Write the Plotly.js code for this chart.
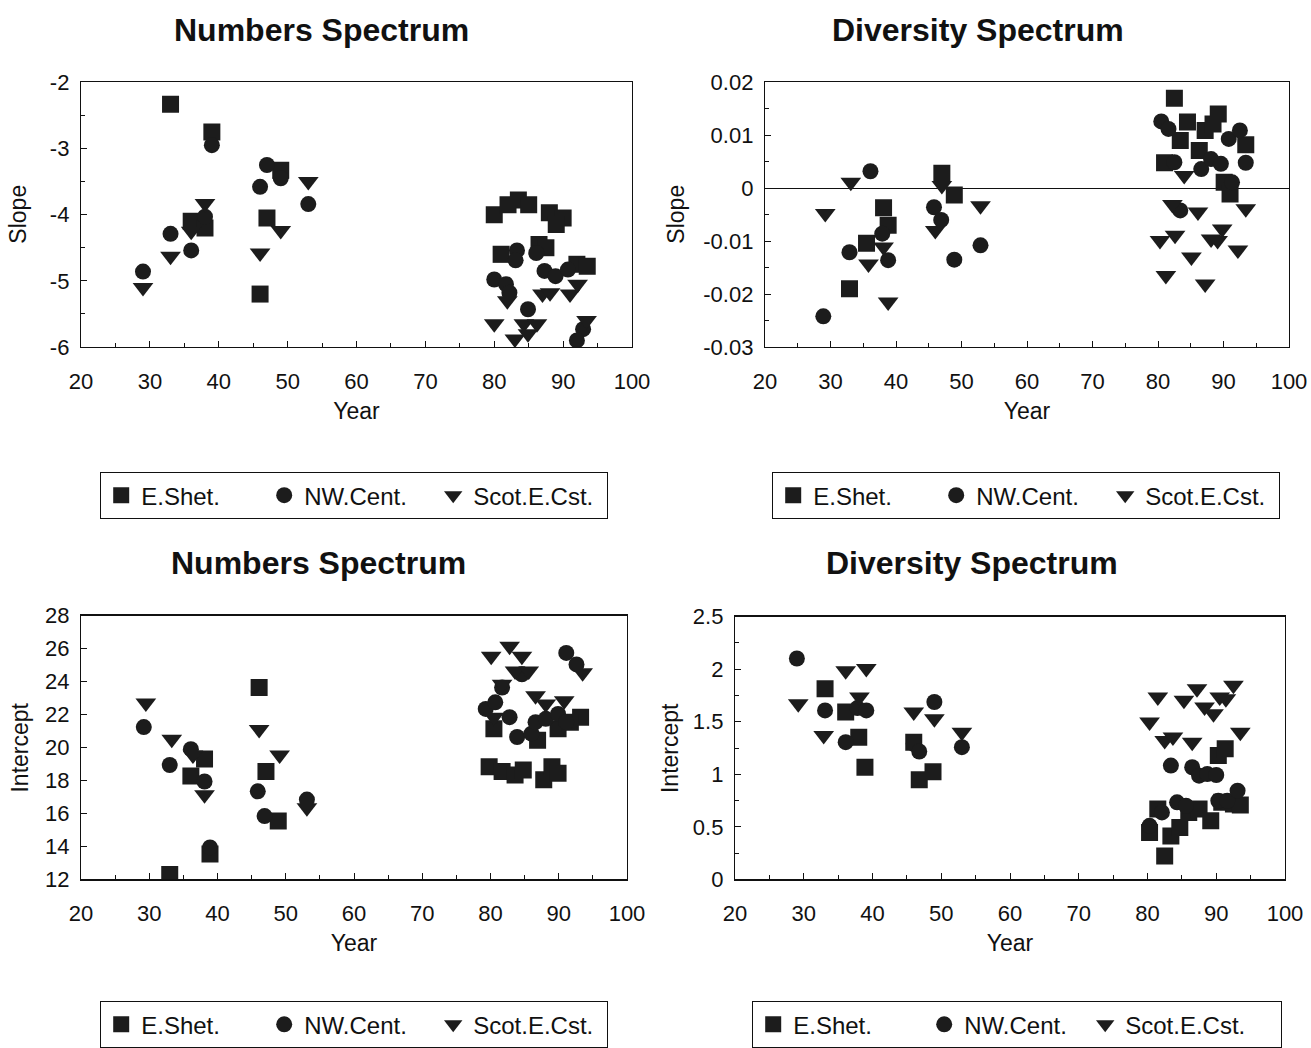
<!DOCTYPE html>
<html>
<head>
<meta charset="utf-8">
<script src="https://cdn.plot.ly/plotly-3.0.1.min.js"></script>
<style>html,body{margin:0;padding:0;background:#fff;}#chart{width:1311px;height:1048px;}</style>
</head>
<body>
<div id="chart"></div>
<script>
// ---------- Data ----------
const seriesNames = ["E.Shet.", "NW.Cent.", "Scot.E.Cst."];
const panelTitles = ["Numbers Spectrum", "Diversity Spectrum", "Numbers Spectrum", "Diversity Spectrum"];
const xTickVals = [20, 30, 40, 50, 60, 70, 80, 90, 100];
const xTickText = ["20", "30", "40", "50", "60", "70", "80", "90", "100"];

// Panel A: Numbers Spectrum - Slope
const numSlopeShetYear = [33, 39, 36, 38, 47, 46, 49, 80, 82, 83.5, 85, 88, 90, 89, 81, 86.5, 87.5, 92, 93.5];
const numSlopeShetVal  = [-2.33, -2.75, -4.1, -4.2, -4.05, -5.2, -3.33, -4.0, -3.85, -3.78, -3.85, -3.97, -4.05, -4.15, -4.6, -4.45, -4.5, -4.75, -4.78];
const numSlopeNWYear   = [29, 33, 36, 38, 39, 47, 46, 49, 53, 80, 81.7, 82.2, 83.3, 83.1, 86.1, 87.3, 88.9, 90.7, 84.9, 92.9, 92];
const numSlopeNWVal    = [-4.86, -4.29, -4.54, -4.03, -2.95, -3.25, -3.58, -3.45, -3.84, -4.98, -5.05, -5.18, -4.54, -4.69, -4.58, -4.85, -4.93, -4.83, -5.43, -5.73, -5.9];
const numSlopeScotYear = [29, 33, 36, 38, 46, 49, 53, 80, 81.9, 83, 84.3, 84.9, 86.2, 87, 88.1, 91, 92.1, 93.4];
const numSlopeScotVal  = [-5.1, -4.63, -4.25, -3.83, -4.58, -4.24, -3.5, -5.65, -5.3, -5.88, -5.65, -5.8, -5.65, -5.2, -5.18, -5.2, -5.05, -5.6];
const numSlopeTickVals = [-6, -5, -4, -3, -2];
const numSlopeTickText = ["-6", "-5", "-4", "-3", "-2"];

// Panel B: Diversity Spectrum - Slope
const divSlopeShetYear = [32.9, 35.5, 38.1, 38.8, 47, 48.9, 81, 82.5, 83.4, 84.5, 86.3, 87.2, 88.4, 89.2, 90.1, 91, 93.4];
const divSlopeShetVal  = [-0.019, -0.0104, -0.0037, -0.007, 0.0028, -0.0013, 0.0048, 0.017, 0.009, 0.0125, 0.0071, 0.0109, 0.0121, 0.014, 0.0011, -0.0011, 0.0082];
const divSlopeNWYear   = [28.9, 32.9, 36.1, 37.9, 38.8, 45.8, 46.9, 48.9, 52.9, 80.5, 81.6, 82.5, 83.4, 86.6, 88.1, 89.6, 90.8, 91.3, 92.5, 93.4];
const divSlopeNWVal    = [-0.0242, -0.0121, 0.0032, -0.0086, -0.0136, -0.0036, -0.006, -0.0135, -0.0108, 0.0126, 0.0112, 0.0049, -0.0042, 0.0036, 0.0055, 0.0046, 0.0093, 0.0011, 0.0109, 0.0048];
const divSlopeScotYear = [29.2, 33.1, 35.8, 38.1, 38.8, 46, 47, 52.9, 80.3, 81.2, 82.2, 82.6, 84, 85.1, 86.1, 87.2, 88.1, 89.1, 89.8, 92.2, 93.4];
const divSlopeScotVal  = [-0.0048, 0.0011, -0.0143, -0.0111, -0.0215, -0.008, 0.0005, -0.0033, -0.0099, -0.0165, -0.0031, -0.0089, 0.0024, -0.013, -0.0045, -0.0181, -0.0096, -0.0099, -0.0077, -0.0117, -0.0039];
const divSlopeTickVals = [-0.03, -0.02, -0.01, 0, 0.01, 0.02];
const divSlopeTickText = ["-0.03", "-0.02", "-0.01", "0", "0.01", "0.02"];

// Panel C: Numbers Spectrum - Intercept
const numIntShetYear = [33, 36.1, 38.1, 38.9, 46.1, 47.1, 48.9, 79.8, 81.7, 83.6, 84.8, 87.8, 89, 89.9, 80.5, 86.9, 89.9, 93.2, 91.7];
const numIntShetVal  = [12.3, 18.28, 19.3, 13.54, 23.64, 18.54, 15.54, 18.84, 18.54, 18.34, 18.64, 18.04, 18.84, 18.44, 21.14, 20.44, 21.14, 21.84, 21.54];
const numIntNWYear   = [29.2, 33, 36.1, 38.1, 38.9, 45.9, 46.9, 53.1, 79.3, 80.7, 81.7, 82.8, 83.9, 84.6, 86, 86.6, 88.1, 89.9, 91.1, 92.6, 91.1];
const numIntNWVal    = [21.24, 18.94, 19.9, 17.94, 13.94, 17.34, 15.84, 16.84, 22.34, 22.74, 23.64, 21.84, 20.64, 24.44, 20.84, 21.54, 21.74, 22.04, 25.74, 25.04, 21.54];
const numIntScotYear = [29.5, 33.3, 36.4, 38.1, 46.1, 49.1, 53.1, 80.1, 80.5, 81.7, 82.8, 83.6, 84.6, 85.6, 86.6, 88.1, 90.8, 93.5];
const numIntScotVal  = [22.7, 20.5, 19.54, 17.14, 21.1, 19.54, 16.34, 25.54, 21.84, 23.84, 26.14, 24.64, 25.54, 24.64, 23.14, 22.64, 22.84, 24.54];
const numIntTickVals = [12, 14, 16, 18, 20, 22, 24, 26, 28];
const numIntTickText = ["12", "14", "16", "18", "20", "22", "24", "26", "28"];

// Panel D: Diversity Spectrum - Intercept
const divIntShetYear = [33.1, 36.1, 38, 38.9, 46, 46.8, 48.8, 80.3, 81.5, 82.5, 83.4, 84.7, 86, 87.5, 89.2, 90.3, 90.8, 91.3, 92.5, 93.5];
const divIntShetVal  = [1.815, 1.592, 1.353, 1.067, 1.306, 0.949, 1.025, 0.446, 0.669, 0.223, 0.414, 0.494, 0.637, 0.669, 0.557, 1.178, 0.733, 1.242, 0.717, 0.707];
const divIntNWYear   = [29, 33.1, 36.1, 37.8, 39.1, 46, 46.8, 49, 53, 80.3, 82.1, 83.4, 84.3, 85.6, 86.5, 87.5, 88.7, 90, 90.3, 91.6, 93.1];
const divIntNWVal    = [2.102, 1.608, 1.306, 1.63, 1.608, 1.29, 1.217, 1.688, 1.258, 0.51, 0.637, 1.083, 0.733, 0.701, 1.067, 0.987, 1.003, 0.993, 0.748, 0.748, 0.844];
const divIntScotYear = [29.2, 32.9, 36.1, 38.1, 39.1, 46, 49, 53, 80.3, 81.5, 82.5, 83.7, 85.3, 86.5, 87.2, 88.3, 89.6, 90.5, 91.4, 92.5, 93.5];
const divIntScotVal  = [1.672, 1.369, 1.985, 1.736, 2.006, 1.592, 1.529, 1.401, 1.497, 1.736, 1.322, 1.354, 1.704, 1.306, 1.815, 1.64, 1.576, 1.736, 1.72, 1.847, 1.401];
const divIntTickVals = [0, 0.5, 1, 1.5, 2, 2.5];
const divIntTickText = ["0", "0.5", "1", "1.5", "2", "2.5"];

// ---------- Styling ----------
const W = 1311, H = 1048;
const FONT = "Liberation Sans, Arial, sans-serif";
const INK = "#1c1c1c";
const symbols = ["square", "circle", "triangle-down"];
const sizes = [17, 16, 18];

const panels = [
  {xs: [numSlopeShetYear, numSlopeNWYear, numSlopeScotYear], ys: [numSlopeShetVal, numSlopeNWVal, numSlopeScotVal],
   tv: numSlopeTickVals, tt: numSlopeTickText, range: [-6, -2], minor: 0.5, ytitle: "Slope", zero: false,
   px: [81, 632], py: [83, 350], title: [321, 30], legend: [100, 476], ytx: 18, lw: [118, 124, 128]},
  {xs: [divSlopeShetYear, divSlopeNWYear, divSlopeScotYear], ys: [divSlopeShetVal, divSlopeNWVal, divSlopeScotVal],
   tv: divSlopeTickVals, tt: divSlopeTickText, range: [-0.03, 0.02], minor: 0.005, ytitle: "Slope", zero: true,
   px: [765, 1289], py: [83, 350], title: [978, 30], legend: [772, 476], ytx: 676, lw: [118, 124, 128]},
  {xs: [numIntShetYear, numIntNWYear, numIntScotYear], ys: [numIntShetVal, numIntNWVal, numIntScotVal],
   tv: numIntTickVals, tt: numIntTickText, range: [12, 28], minor: null, ytitle: "Intercept", zero: false,
   px: [81, 627], py: [621, 887], title: [318, 568], legend: [100, 1010], ytx: 20, lw: [118, 124, 128]},
  {xs: [divIntShetYear, divIntNWYear, divIntScotYear], ys: [divIntShetVal, divIntNWVal, divIntScotVal],
   tv: divIntTickVals, tt: divIntTickText, range: [0, 2.5], minor: 0.25, ytitle: "Intercept", zero: false,
   px: [735, 1285], py: [622, 887], title: [972, 568], legend: [752, 1010], ytx: 670, lw: [126, 116, 150]}
];

const traces = [];
const layout = {
  width: W, height: H,
  margin: {l: 0, r: 0, t: 0, b: 0},
  paper_bgcolor: "#fff", plot_bgcolor: "#fff",
  showlegend: true,
  annotations: [],
  font: {family: FONT, color: "#111"}
};

panels.forEach((p, i) => {
  const n = i + 1;
  const xa = n === 1 ? "x" : "x" + n;
  const ya = n === 1 ? "y" : "y" + n;
  const lg = n === 1 ? "legend" : "legend" + n;
  for (let s = 0; s < 3; s++) {
    traces.push({
      type: "scatter", mode: "markers",
      x: p.xs[s], y: p.ys[s],
      name: seriesNames[s],
      xaxis: xa, yaxis: ya, legend: lg,
      legendwidth: p.lw[s],
      marker: {symbol: symbols[s], size: sizes[s], color: INK, line: {width: 0}},
      hoverinfo: "x+y"
    });
  }
  const axBase = {
    showline: true, linecolor: "#111", linewidth: 1.2, mirror: true,
    showgrid: false, ticks: "inside", ticklen: 6, tickcolor: "#111", tickwidth: 1,
    tickfont: {family: FONT, size: 22, color: "#111"}
  };
  layout["xaxis" + (n === 1 ? "" : n)] = Object.assign({}, axBase, {
    domain: [p.px[0] / W, p.px[1] / W], anchor: ya,
    range: [20, 100], tickmode: "array", tickvals: xTickVals, ticktext: xTickText,
    minor: {ticks: "inside", dtick: 5, ticklen: 4, tickcolor: "#111"},
    zeroline: false, ticklabelstandoff: 14,
    title: {text: "Year", font: {family: FONT, size: 23, color: "#111"}, standoff: 10}
  });
  const yax = Object.assign({}, axBase, {
    domain: [1 - p.py[1] / H, 1 - p.py[0] / H], anchor: xa,
    range: p.range, tickmode: "array", tickvals: p.tv, ticktext: p.tt,
    zeroline: p.zero, zerolinecolor: "#111", zerolinewidth: 1.2,
    ticklabelstandoff: 6,
    title: {text: ""}
  });
  if (p.minor) yax.minor = {ticks: "inside", dtick: p.minor, ticklen: 4, tickcolor: "#111"};
  layout["yaxis" + (n === 1 ? "" : n)] = yax;
  layout.annotations.push({
    text: p.ytitle, xref: "paper", yref: "paper", textangle: -90,
    x: p.ytx / W, y: 1 - (p.py[0] + p.py[1]) / 2 / H, xanchor: "center", yanchor: "middle",
    showarrow: false, font: {family: FONT, size: 23, color: "#111"}
  });
  layout.annotations.push({
    text: "<b>" + panelTitles[i] + "</b>", xref: "paper", yref: "paper",
    x: p.title[0] / W, y: 1 - p.title[1] / H, xanchor: "center", yanchor: "middle",
    showarrow: false, font: {family: FONT, size: 32, color: "#111"}
  });
  layout[lg] = {
    orientation: "h", x: p.legend[0] / W, y: 1 - p.legend[1] / H,
    xanchor: "left", yanchor: "top",
    bordercolor: "#111", borderwidth: 1.2, bgcolor: "#fff",
    font: {family: FONT, size: 24, color: "#111"},
    itemwidth: 30, tracegroupgap: 0
  };
});

Plotly.newPlot("chart", traces, layout, {staticPlot: true});
</script>
</body>
</html>
